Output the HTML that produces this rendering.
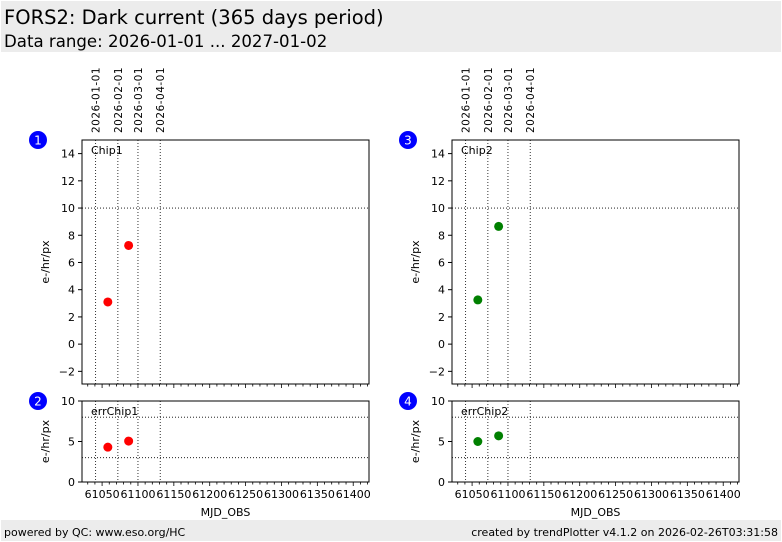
<!DOCTYPE html>
<html><head><meta charset="utf-8"><style>
body{margin:0;width:782px;height:542px;background:#fff;font-family:"DejaVu Sans","Liberation Sans",sans-serif;overflow:hidden}
svg{display:block}
</style></head><body>
<svg id="c" width="782" height="542" xmlns="http://www.w3.org/2000/svg" font-family="DejaVu Sans, Liberation Sans, sans-serif">
<rect x="1" y="1" width="780" height="51" fill="#ececec"/>
<text x="4" y="24" font-size="19.5" fill="#000">FORS2: Dark current (365 days period)</text>
<text x="4" y="47" font-size="16.6" fill="#000">Data range: 2026-01-01 ... 2027-01-02</text>
<rect x="1" y="520" width="780" height="21" fill="#ececec"/>
<text x="4" y="536" font-size="11">powered by QC: www.eso.org/HC</text>
<text x="778" y="536" font-size="11" text-anchor="end">created by trendPlotter v4.1.2 on 2026-02-26T03:31:58</text>
<g id="plots"></g>
</svg>
<script>
const xTicks=[61050,61100,61150,61200,61250,61300,61350,61400];
const dateLabels=["2026-01-01","2026-02-01","2026-03-01","2026-04-01"];
const dateMjd=[61041,61072,61100,61131];
const chip1X=[61058,61087];
const chip1Y=[3.1,7.25];
const chip2X=[61058,61087];
const chip2Y=[3.25,8.65];
const err1Y=[4.3,5.05];
const err2Y=[5.0,5.7];
const topTicks=[-2,0,2,4,6,8,10,12,14];
const botTicks=[0,5,10];
const topRef=[10];
const botRef=[3,8];

const NS="http://www.w3.org/2000/svg";
const root=document.getElementById('plots');
const XMIN=61022,XMAX=61422;
function mk(tag,attrs,parent){const e=document.createElementNS(NS,tag);for(const k in attrs)e.setAttribute(k,attrs[k]);(parent||root).appendChild(e);return e;}

function panel(x0,y0,w,h,ymin,ymax,yt,refs,xs,ys,color,label,num,showX,showDates,name){
  const g=mk('g',{});
  
  
  const sx=v=>x0+(v-XMIN)/(XMAX-XMIN)*w;
  const sy=v=>y0+h-(v-ymin)/(ymax-ymin)*h;
  dateMjd.forEach((m,i)=>{
    const l=mk('line',{x1:sx(m),x2:sx(m),y1:y0,y2:y0+h,stroke:'#000','stroke-width':0.8,'stroke-dasharray':'1,2'},g);
    
    
    if(showDates){
      const t=mk('text',{x:0,y:0,'font-size':10.5,transform:`translate(${sx(m)+4},${y0-7}) rotate(-90)`,'letter-spacing':'0.5'},g);
      t.textContent=dateLabels[i];
      
      
    }
  });
  refs.forEach(r=>{
    const l=mk('line',{x1:x0,x2:x0+w,y1:sy(r),y2:sy(r),stroke:'#000','stroke-width':0.8,'stroke-dasharray':'1,2'},g);
    
    
  });
  const fr=mk('rect',{x:x0,y:y0,width:w,height:h,fill:'none',stroke:'#000','stroke-width':1},g);
  
  
  yt.forEach(v=>{
    mk('line',{x1:x0-4,x2:x0,y1:sy(v),y2:sy(v),stroke:'#000'},g);
    const t=mk('text',{x:x0-7,y:sy(v)+4,'font-size':11,'text-anchor':'end'},g);
    t.textContent=v<0?'\u2212'+(-v):v;
    
    
  });
  for(let m=61030;m<=XMAX;m+=10){
    const major=xTicks.includes(m);
    mk('line',{x1:sx(m),x2:sx(m),y1:y0+h,y2:y0+h+(major?4:2.5),stroke:'#000','stroke-width':0.8},g);
  }
  if(showX){
    xTicks.forEach(v=>{
      const t=mk('text',{x:sx(v),y:y0+h+16,'font-size':11,'text-anchor':'middle'},g);
      t.textContent=v;
      
      
    });
    const xl=mk('text',{x:x0+w/2,y:y0+h+34,'font-size':11,'text-anchor':'middle'},g);
    xl.textContent='MJD_OBS';
    
    
  }
  const yl=mk('text',{x:0,y:0,'font-size':11,'text-anchor':'middle',transform:`translate(${x0-33},${y0+h/2}) rotate(-90)`},g);
  yl.textContent='e-/hr/px';
  
  
  const lb=mk('text',{x:x0+9,y:y0+14,'font-size':11},g);
  lb.textContent=label;
  
  
  xs.forEach((xv,i)=>{
    const p=mk('circle',{cx:sx(xv),cy:sy(ys[i]),r:4.5,fill:color},g);
    
    
  });
  const b=mk('circle',{cx:x0-44,cy:y0,r:9,fill:'#0000ff'},g);
  
  
  const bt=mk('text',{x:x0-44,y:y0+4.5,'font-size':12,fill:'#fff','text-anchor':'middle'},g);
  bt.textContent=num;
  
  
}
panel(82,140,287,244,-2.93,15,topTicks,topRef,chip1X,chip1Y,'#ff0000','Chip1','1',false,true,'chip1-panel');
panel(82,401,287,81,0,10,botTicks,botRef,chip1X,err1Y,'#ff0000','errChip1','2',true,false,'errchip1-panel');
panel(452,140,287,244,-2.93,15,topTicks,topRef,chip2X,chip2Y,'#008000','Chip2','3',false,true,'chip2-panel');
panel(452,401,287,81,0,10,botTicks,botRef,chip2X,err2Y,'#008000','errChip2','4',true,false,'errchip2-panel');
</script>
</body></html>
